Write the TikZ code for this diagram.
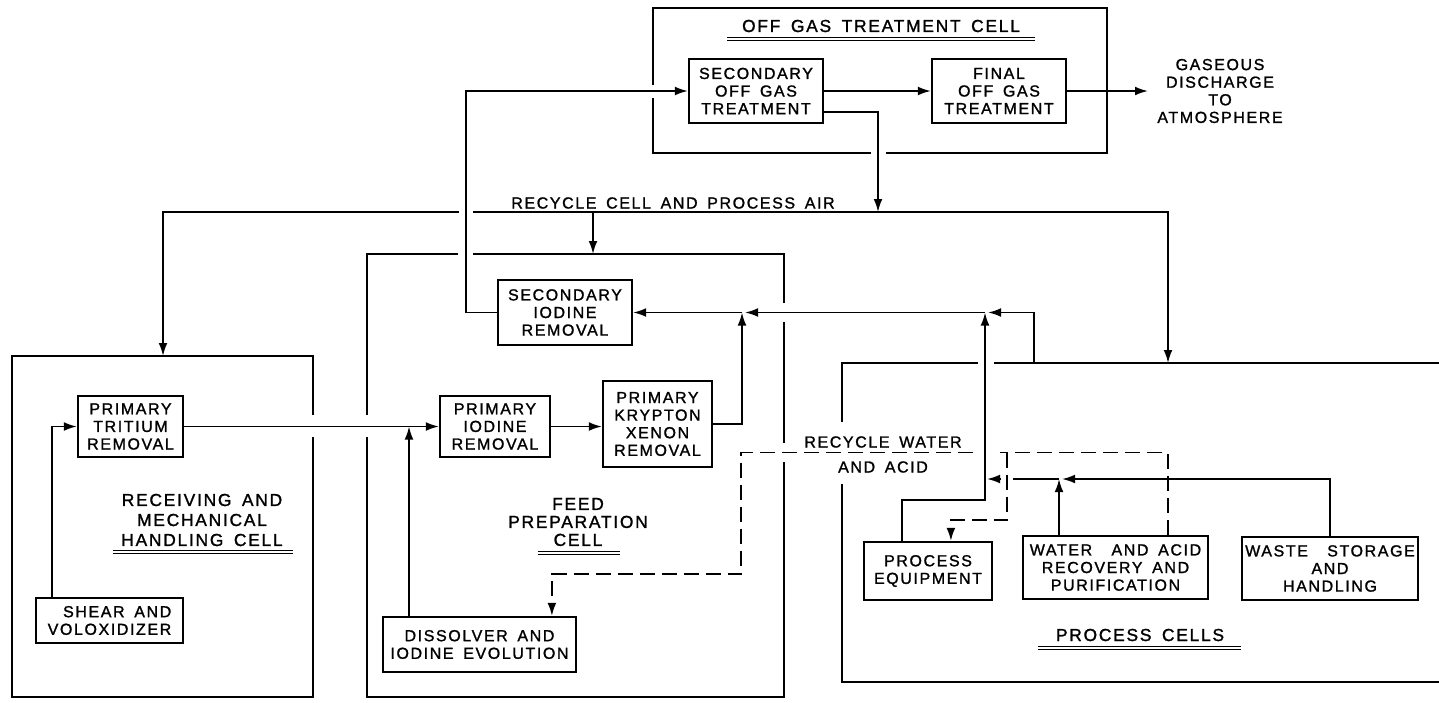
\documentclass[tikz,border=0pt]{standalone}
\usepackage{fontspec}
\setmainfont{Liberation Sans}
\newfontfamily\lettering[LetterSpace=10,WordSpace=1.6,FakeBold=1.3]{Liberation Sans}
\usetikzlibrary{arrows.meta,calc}

\begin{document}
\begin{tikzpicture}[x=0.5pt,y=-0.5pt,
  every node/.style={font=\lettering\fontsize{8}{8.8}\selectfont, align=center, inner sep=0pt},
  box/.style={draw, line width=1.1pt},
  sz/.style 2 args={minimum width=#1*0.5pt, minimum height=#2*0.5pt},
  wall/.style={line width=1.45pt, line join=miter},
  flow/.style={line width=0.9pt},
  tip/.style={-{Latex[length=6.5pt,width=4.4pt]}},
  arr/.style={flow, tip},
  liquid/.style={flow, dash pattern=on 7.5pt off 3.5pt},
  cellname/.style={font=\lettering\fontsize{8.7}{10}\selectfont},
  uline/.style={line width=0.5pt}]

\useasboundingbox (0,0) rectangle (1439,702);

% ---------------- cell walls (broken where lines pass through)
% off gas treatment cell
\draw[wall] (653,85) -- (653,8) -- (1107,8) -- (1107,153) -- (886,153);
\draw[wall] (871,153) -- (653,153) -- (653,98);
% receiving and mechanical handling cell
\draw[wall] (313,415) -- (313,356) -- (12,356) -- (12,697) -- (313,697) -- (313,437);
% feed preparation cell
\draw[wall] (458,254) -- (367,254) -- (367,415);
\draw[wall] (367,437) -- (367,697) -- (784,697) -- (784,462);
\draw[wall] (784,443) -- (784,322);
\draw[wall] (784,303) -- (784,254) -- (473,254);
% process cells
\draw[wall] (978,363) -- (842,363) -- (842,422);
\draw[wall] (842,484) -- (842,682) -- (1439,682);
\draw[wall] (994,363) -- (1439,363);

% ---------------- equipment boxes
\node[box,sz={134}{64}] (secoff) at (756,91) {SECONDARY\\OFF GAS\\TREATMENT};
\node[box,sz={134}{64}] (finaloff) at (999,91) {FINAL\\OFF GAS\\TREATMENT};
\node (discharge) at (1220,91) {GASEOUS\\DISCHARGE\\TO\\ATMOSPHERE};
\node[box,sz={134}{65}] (seciod) at (565,312.5) {SECONDARY\\IODINE\\REMOVAL};
\node[box,sz={105}{61}] (tritium) at (130.5,426.5) {PRIMARY\\TRITIUM\\REMOVAL};
\node[box,sz={147}{45},align=right] (shear) at (109.5,620.5) {SHEAR AND\\VOLOXIDIZER};
\node[box,sz={110}{61}] (primiod) at (495,426.5) {PRIMARY\\IODINE\\REMOVAL};
\node[box,sz={109}{86}] (krypton) at (657.5,424) {PRIMARY\\KRYPTON\\XENON\\REMOVAL};
\node[box,sz={193}{55}] (dissolver) at (479.5,644.5) {DISSOLVER AND\\IODINE EVOLUTION};
\node[box,sz={128}{58}] (proceq) at (928,571) {PROCESS\\EQUIPMENT};
\node[box,sz={185}{63}] (water) at (1115.5,567.5) {WATER~ AND ACID\\RECOVERY AND\\PURIFICATION};
\node[box,sz={176}{63}] (waste) at (1330,568.5) {WASTE~ STORAGE\\AND\\HANDLING};

% ---------------- cell names and stream labels
\node[cellname] (offgascell) at (881,26) {OFF GAS TREATMENT CELL};
\draw[uline] (727,37) -- (1035,37) (727,40) -- (1035,40);
\node[cellname] (recvcell) at (202,520) {RECEIVING AND\\MECHANICAL\\HANDLING CELL};
\draw[uline] (113,550) -- (293,550) (113,553) -- (293,553);
\node[cellname,font=\lettering\fontsize{8.7}{9}\selectfont] (feedcell) at (578,522) {FEED\\PREPARATION\\CELL};
\draw[uline] (538,551) -- (620,551) (538,554) -- (620,554);
\node[cellname] (proccells) at (1140,635) {PROCESS CELLS};
\draw[uline] (1038,646) -- (1241,646) (1038,649) -- (1241,649);
\node (recycleair) at (673,203) {RECYCLE CELL AND PROCESS AIR};
\node[font=\lettering\fontsize{8}{12.5}\selectfont] (recwater) at (883,454.5) {RECYCLE WATER\\AND ACID};

% ---------------- junction points
\coordinate (upA) at (466,312.5);
\coordinate (dropB) at (878,212);
\coordinate (airL) at (163,212);
\coordinate (airR) at (1168,212);
\coordinate (airGapL) at (459,212);
\coordinate (airGapR) at (473,212);
\coordinate (recvIn) at (163,356);
\coordinate (procIn) at (1168,363);
\coordinate (feedDrop) at (593,212);
\coordinate (feedIn) at (593,254);
\coordinate (vent) at (1148,91);
\coordinate (dj) at (409,426.5);
\coordinate (kj) at (742,312.5);
\coordinate (kjr) at (745,312.5);
\coordinate (pj) at (985,312.5);
\coordinate (pjr) at (988,312.5);
\coordinate (pcOut) at (1034,363);
\coordinate (pe1) at (985,500);
\coordinate (wj) at (1059,479);
\coordinate (wjr) at (1062,479);
\coordinate (wGapR) at (1013,479);
\coordinate (wGapL) at (1001,479);
\coordinate (pwIn) at (987,479);
\coordinate (dT) at (1007,452.5);
\coordinate (dTop) at (1000,452.5);
\coordinate (dCross) at (973,452.5);
\coordinate (dFeed) at (741,452.5);
\coordinate (dLow) at (741,574);
\coordinate (dBack) at (1007,520);

% ---------------- off gas flow
\draw[arr] (seciod.west) -- (upA) |- (secoff.west);
\draw[arr] (secoff.east) -- (finaloff.west);
\draw[arr] (finaloff.east) -- (vent);
\draw[arr] ($(secoff.east)+(0,21)$) -| (dropB);

% recycle cell and process air
\draw[arr] (airGapL) -- (airL) -- (recvIn);
\draw[arr] (airGapR) -- (airR) -- (procIn);
\draw[arr] (feedDrop) -- (feedIn);

% head-end gas flow
\draw[arr] ($(shear.north west)+(17,0)$) |- (tritium.west);
\draw[arr] (tritium.east) -- (primiod.west);
\draw[arr] (dj |- dissolver.north) -- (dj);
\draw[arr] (primiod.east) -- (primiod.east -| krypton.west);
\draw[arr] (krypton.east) -| (kj);
\draw[arr] (kj) -- (seciod.east);
\draw[arr] (pj) -- (kjr);
\draw[arr] (pcOut) |- (pjr);
\draw[arr] ($(proceq.north west)+(39,0)$) |- (pe1) -- (pj);

% process cell gas collection
\draw[arr] (water.north -| wj) -- (wj);
\draw[arr] (waste.north) |- (wjr);
\draw[flow] (wj) -- (wGapR);
\draw[arr] (wGapL) -- (pwIn);

% recycle water and acid
\draw[liquid] ($(water.north west)+(146,0)$) |- (dTop);
\draw[liquid,tip] (dT) -- (dBack) -| ($(proceq.north west)+(88,0)$);
\draw[liquid,tip] (dCross) -- (dFeed) -- (dLow) -| ($(dissolver.north west)+(170,0)$);
\end{tikzpicture}
\end{document}
